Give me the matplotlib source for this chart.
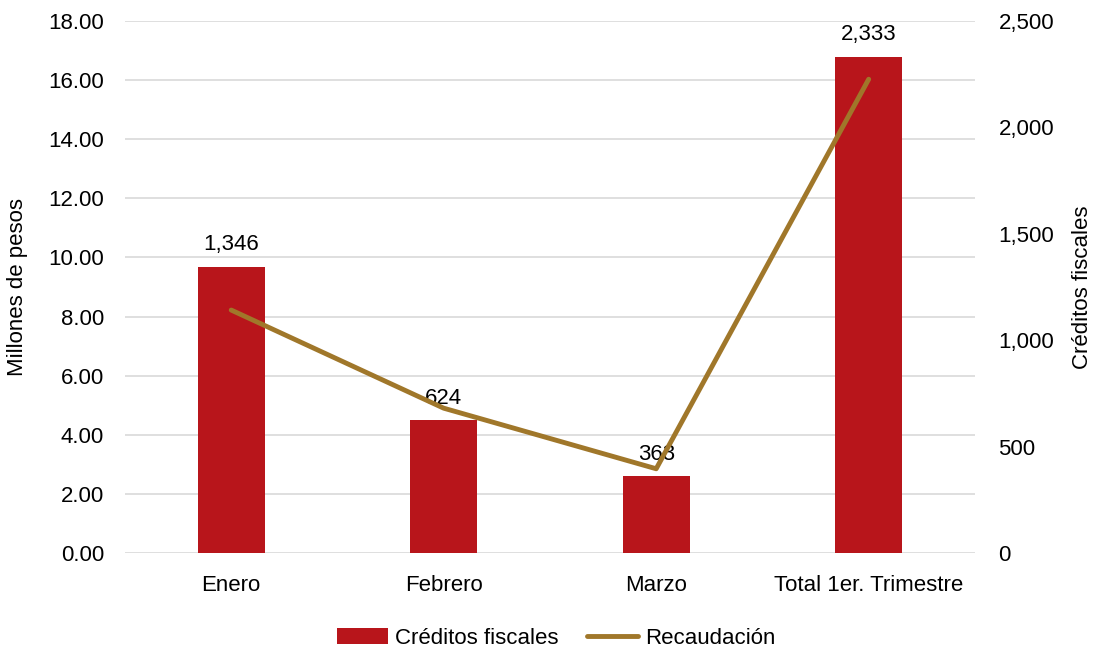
import matplotlib.pyplot as plt
import numpy as np

plt.rcParams['font.family'] = ['Liberation Sans', 'DejaVu Sans']

categorias = ['Enero', 'Febrero', 'Marzo', 'Total 1er. Trimestre']
creditos = [1346, 624, 363, 2333]
recaudacion = [8.22, 4.90, 2.85, 16.03]

BAR_COLOR = '#B8151B'
LINE_COLOR = '#A0772A'
GRID_COLOR = '#D9D9D9'
FS = 16

fig = plt.figure(figsize=(11.01, 6.48), dpi=100)
ax = fig.add_axes([0.1135, 0.1466, 0.772, 0.821])
ax2 = ax.twinx()

x = np.arange(len(categorias))

# barras en el eje secundario (créditos fiscales)
ax2.bar(x, creditos, width=0.315, color=BAR_COLOR, label='Créditos fiscales', zorder=2)
for xi, v in zip(x, creditos):
    ax2.annotate(f'{v:,}', (xi, v), xytext=(0, 8), textcoords='offset points',
                 ha='center', va='bottom', fontsize=FS, zorder=5)
ax2.set_ylim(0, 2500)
ax2.set_yticks(np.arange(0, 2501, 500))
ax2.set_yticklabels([f'{int(t):,}' for t in np.arange(0, 2501, 500)])
ax2.set_ylabel('Créditos fiscales', fontsize=FS)
ax2.yaxis.set_label_coords(1.114, 0.5)

# línea en el eje principal (millones de pesos), por encima de las barras
ax.set_zorder(ax2.get_zorder() + 1)
ax.patch.set_visible(False)
ax.plot(x, recaudacion, color=LINE_COLOR, linewidth=3.5, solid_capstyle='round',
        label='Recaudación', zorder=3)
ax.set_ylim(0, 18)
ax.set_yticks(np.arange(0, 18.1, 2))
ax.set_yticklabels([f'{t:.2f}' for t in np.arange(0, 18.1, 2)])
ax.set_ylabel('Millones de pesos', fontsize=FS)
ax.yaxis.set_label_coords(-0.114, 0.5)
ax.set_xlim(-0.5, len(categorias) - 0.5)
ax.set_xticks(x)
ax.set_xticklabels(categorias)

for t in np.arange(0, 18.1, 2):
    ax2.axhline(t / 18 * 2500, color=GRID_COLOR, linewidth=1.2, zorder=0)

for a in (ax, ax2):
    for s in a.spines.values():
        s.set_visible(False)
    a.tick_params(length=0, labelsize=FS)
ax.tick_params(axis='y', pad=15)
ax.tick_params(axis='x', pad=16)
ax2.tick_params(axis='y', pad=17)

h1, l1 = ax2.get_legend_handles_labels()
h2, l2 = ax.get_legend_handles_labels()
fig.legend(h1 + h2, l1 + l2, loc='center', ncol=2, frameon=False,
           fontsize=FS, bbox_to_anchor=(0.505, 10 / 648), handlelength=2.3,
           handletextpad=0.3, columnspacing=1.3)

fig.savefig('out.png', dpi=100)
